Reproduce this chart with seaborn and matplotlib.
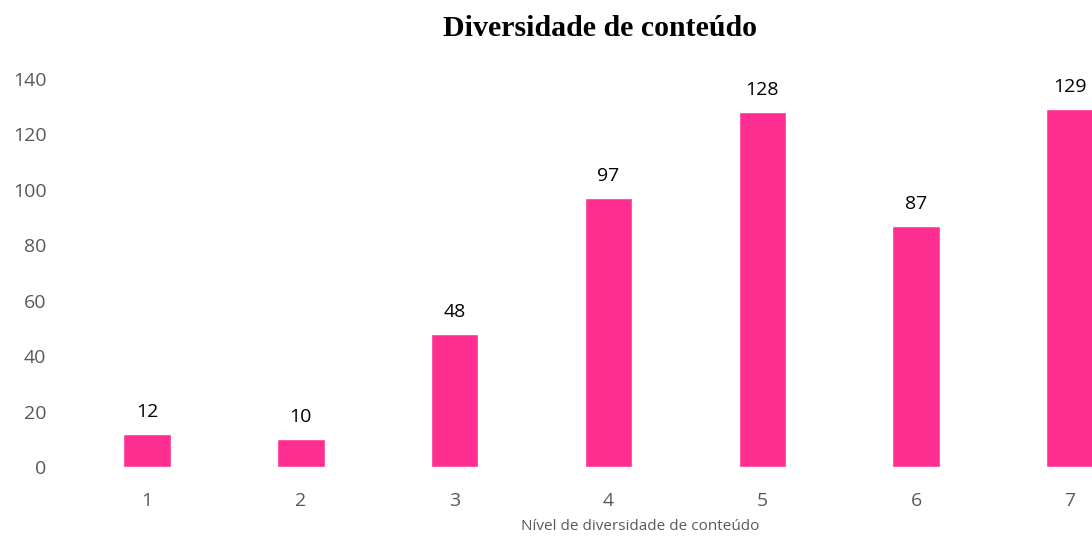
import matplotlib
matplotlib.use("Agg")
import matplotlib.pyplot as plt
import seaborn as sns
import pandas as pd

categories = ["1", "2", "3", "4", "5", "6", "7"]
values = [12, 10, 48, 97, 128, 87, 129]
title = "Diversidade de conteúdo"
xlabel = "Nível de diversidade de conteúdo"

sns.set_theme(style="white")
plt.rcParams['font.family'] = ['Open Sans', 'DejaVu Sans']

df = pd.DataFrame({"cat": categories, "val": values})

fig = plt.figure(figsize=(10.92, 5.36), dpi=100)
ax = fig.add_axes([70/1092, 69/536, (1147-70)/1092, (467-79)/536])
sns.barplot(data=df, x="cat", y="val", color="#FF2F92", width=0.31,
            saturation=1, ax=ax)
ax.set_xlim(-0.5, 6.5)
ax.set_ylim(0, 140)
ax.set_yticks(range(0, 141, 20))
for s in ax.spines.values():
    s.set_visible(False)
ax.tick_params(axis='both', length=0, labelsize=14, labelcolor="#595959")
ax.tick_params(axis='y', pad=17)
ax.tick_params(axis='x', pad=18)
ax.set_ylabel("")
ax.set_xlabel("")

for i, v in enumerate(values):
    ax.annotate(str(v), (i, v), xytext=(0, 16), textcoords="offset points",
                ha="center", va="center", fontsize=14, color="black")

fig.text(640/1092, 2/536, xlabel, ha="center", va="bottom",
         fontsize=11, color="#595959")

fig.text(600/1092, 1 - 29/536, title, ha="center", va="center",
         fontsize=21.5, fontweight="bold", family="Liberation Serif",
         color="black")

fig.savefig("out.png", dpi=100)
